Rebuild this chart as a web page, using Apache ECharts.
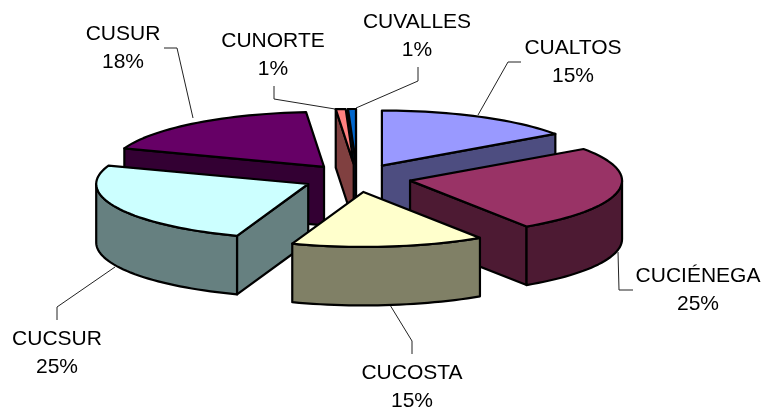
<!DOCTYPE html>
<html>
<head>
<meta charset="utf-8">
<style>
  html, body { margin: 0; padding: 0; background: #fff; }
  #chart { width: 762px; height: 407px; }
</style>
<script src="https://cdn.jsdelivr.net/npm/echarts@6/dist/echarts.min.js"></script>
</head>
<body>
<div id="chart"></div>
<script>
// clockwise from 12 o'clock
const categories = ['CUALTOS', 'CUCIÉNEGA', 'CUCOSTA', 'CUCSUR', 'CUSUR', 'CUNORTE', 'CUVALLES'];
const shares = [15.25, 25.49, 14.71, 25, 18.2, 0.75, 0.6];

const topColors = ['#9999FF', '#993366', '#FFFFCC', '#CCFFFF', '#660066', '#FF8080', '#0066CC'];
const sideColors = ['#4D4D80', '#4D1A33', '#808066', '#668080', '#330033', '#804040', '#003366'];

// back to front, so nearer slices cover the ones behind them
const drawOrder = [0, 6, 5, 4, 1, 3, 2];

// pie projection
const pie = { cx: 357, cy: 178, rx: 212, ry: 55, depth: 58.5, explode: 54 };

// label centres and leader lines, in pixels
const labelLayout = [
  { x: 573, y: 62, leader: [[521, 62], [508, 62], [478, 115]] },
  { x: 698, y: 290, leader: [[618, 252], [619, 290], [633, 290]] },
  { x: 412, y: 387, leader: [[390, 305], [412, 341], [412, 354]] },
  { x: 57, y: 353, leader: [[115, 267], [57, 307], [57, 320]] },
  { x: 123, y: 48, leader: [[164, 48], [177, 48], [193, 118]] },
  { x: 273, y: 55, leader: [[274, 86], [274, 99], [335, 109]] },
  { x: 417, y: 36, leader: [[418, 67], [418, 81], [356, 108]] },
];

const total = shares.reduce((a, b) => a + b, 0);
const rad = (d) => (d * Math.PI) / 180;

// start and end angle in degrees of every slice
let acc = 0;
const spans = shares.map((v) => {
  const start = acc;
  acc += (v / total) * 360;
  return [start, acc];
});

function renderSlice(params) {
  const i = drawOrder[params.dataIndex];
  const [a, b] = spans[i];
  const mid = rad((a + b) / 2);
  const ox = pie.cx + pie.explode * Math.sin(mid);
  const oy = pie.cy - (pie.explode * pie.ry * Math.cos(mid)) / pie.rx;
  const rim = (deg, drop) => [
    ox + pie.rx * Math.sin(rad(deg)),
    oy - pie.ry * Math.cos(rad(deg)) + (drop || 0),
  ];
  const arc = (from, to, drop) => {
    const pts = [];
    const n = Math.max(2, Math.ceil(Math.abs(to - from) / 2));
    for (let k = 0; k <= n; k++) pts.push(rim(from + ((to - from) * k) / n, drop));
    return pts;
  };
  const stroke = { stroke: '#000', lineWidth: 2.2, lineJoin: 'round' };
  const face = (points, fill) => ({
    type: 'polygon',
    shape: { points },
    style: { fill, ...stroke },
  });
  const cut = (deg) =>
    face([[ox, oy], rim(deg), rim(deg, pie.depth), [ox, oy + pie.depth]], sideColors[i]);

  const children = [];
  if (Math.sin(rad(a)) < 0) children.push(cut(a));
  if (Math.sin(rad(b)) > 0) children.push(cut(b));
  // outer wall, only the part that faces the viewer
  const w0 = Math.max(a, 90);
  const w1 = Math.min(b, 270);
  if (w1 > w0) {
    children.push(face(arc(w0, w1, 0).concat(arc(w1, w0, pie.depth)), sideColors[i]));
  }
  children.push(face([[ox, oy]].concat(arc(a, b, 0)), topColors[i]));
  return { type: 'group', children };
}

function renderLabel(params) {
  const i = params.dataIndex;
  const l = labelLayout[i];
  return {
    type: 'group',
    children: [
      {
        type: 'polyline',
        shape: { points: l.leader },
        style: { fill: 'none', stroke: '#222', lineWidth: 1 },
      },
      {
        type: 'text',
        x: l.x,
        y: l.y,
        style: {
          text: categories[i] + '\n' + Math.round(shares[i]) + '%',
          fill: '#000',
          font: '21px "Liberation Sans", Arial, sans-serif',
          lineHeight: 28,
          align: 'center',
          verticalAlign: 'middle',
        },
      },
    ],
  };
}

const chart = echarts.init(document.getElementById('chart'));
chart.setOption({
  animation: false,
  backgroundColor: '#fff',
  series: [
    {
      type: 'custom',
      coordinateSystem: 'none',
      silent: true,
      z: 1,
      data: shares,
      renderItem: renderLabel,
    },
    {
      type: 'custom',
      coordinateSystem: 'none',
      silent: true,
      z: 2,
      data: drawOrder.map((i) => shares[i]),
      renderItem: renderSlice,
    },
  ],
});
</script>
</body>
</html>
